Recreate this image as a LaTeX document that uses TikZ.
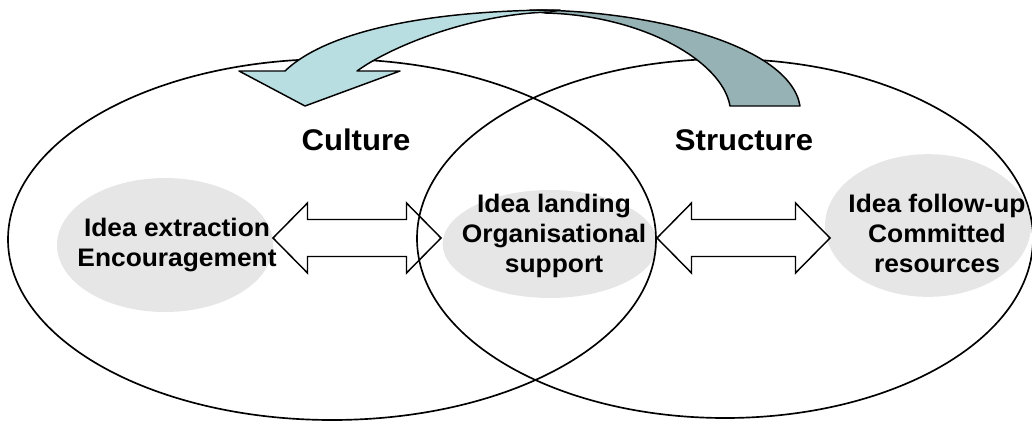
\documentclass[tikz,border=0pt]{standalone}
\usepackage{fontspec}
\setmainfont{Liberation Sans}[FakeStretch=1.04]
\usetikzlibrary{shapes.geometric,calc}

\definecolor{ovalgrey}{RGB}{230,230,230}
\definecolor{ribbonfront}{RGB}{184,222,226}
\definecolor{ribbonback}{RGB}{150,178,181}

\tikzset{
  setoval/.style={draw=black, line width=1.25pt, ellipse, inner sep=0pt},
  focus/.style={fill=ovalgrey, ellipse, inner sep=0pt},
  itemtext/.style={font=\bfseries\fontsize{19}{22.5}\selectfont, align=center, inner sep=0pt},
  headtext/.style={font=\bfseries\fontsize{22.4}{26}\selectfont, inner sep=0pt, anchor=base},
  blockarrow/.style={draw=black, fill=white, line width=1.1pt, line join=miter},
  ribbon/.style={draw=black, line width=1.1pt, line join=round}
}

% hollow two-headed block arrow between two tip coordinates
\newcommand\twowayarrow[2]{%
  \draw[blockarrow] (#1) -- ($(#1)+(34.5,-35)$) -- ($(#1)+(34.5,-18.5)$)
    -- ($(#2)+(-34.5,-18.5)$) -- ($(#2)+(-34.5,-35)$) -- (#2)
    -- ($(#2)+(-34.5,35)$) -- ($(#2)+(-34.5,18.5)$)
    -- ($(#1)+(34.5,18.5)$) -- ($(#1)+(34.5,35)$) -- cycle;}

\begin{document}
\begin{tikzpicture}[x=0.75pt, y=-0.75pt]
\useasboundingbox (0,0) rectangle (1032,421);

% grey focus ovals
\node[focus, minimum width=162pt, minimum height=100.5pt] (extract) at (165,245) {};
\node[focus, minimum width=161pt, minimum height=81pt] (landing) at (550,244) {};
\node[focus, minimum width=154.5pt, minimum height=107pt] (follow) at (928,225.5) {};

% two-way block arrows between the ovals
\coordinate (a1) at (273,238);
\coordinate (a2) at (441,238);
\coordinate (b1) at (657,238);
\coordinate (b2) at (830,238);
\twowayarrow{a1}{a2}
\twowayarrow{b1}{b2}

% the two overlapping sets
\node[setoval, minimum width=486pt, minimum height=270.75pt] (culture) at (332,239.5) {};
\node[setoval, minimum width=462pt, minimum height=269.25pt] (structure) at (725,238.5) {};

% curved ribbon arrow from Structure back to Culture
\path[ribbon, fill=ribbonback] (530,10) .. controls (650,10) and (790,45) .. (800,106)
  -- (730,106) .. controls (722,60) and (640,15) .. (545,13) -- cycle;
\path[ribbon, fill=ribbonfront] (285,71) .. controls (330,28) and (440,10) .. (560,10)
  -- (550,12) .. controls (470,14) and (390,47) .. (357,71)
  -- (400,71) -- (305,106) -- (239,71) -- cycle;

% texts
\node[headtext] (cultureTitle) at (356,150) {Culture};
\node[headtext] (structureTitle) at (744,150) {Structure};
\node[itemtext] (extractText) at (177,245) {Idea extraction\\Encouragement};
\node[itemtext] (landingText) at (554,236) {Idea landing\\Organisational\\support};
\node[itemtext] (followText) at (937,233) {Idea follow-up\\Committed\\resources};
\end{tikzpicture}
\end{document}
